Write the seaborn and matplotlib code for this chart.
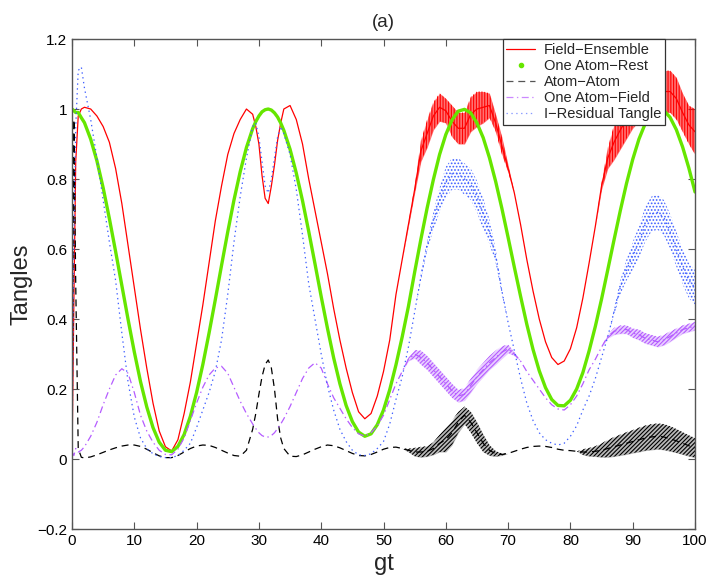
import numpy as np
import seaborn as sns
import matplotlib
matplotlib.use('Agg')
import matplotlib.pyplot as plt
from matplotlib.lines import Line2D

# time grid gt (finer at the start and around the dip at gt~31)
gt = [0, 0.3, 0.6, 1, 1.5] + list(range(2, 30)) + \
     [29.5, 30, 30.5, 31, 31.5, 32, 32.5, 33, 33.5, 34] + list(range(35, 101))

field_ensemble = [
    0.0, 0.45, 0.85, 0.98, 1.0,
    1.005, 1.0, 0.98, 0.95, 0.905, 0.83, 0.73, 0.61, 0.49, 0.37,
    0.26, 0.16, 0.08, 0.035, 0.023, 0.055, 0.13, 0.22, 0.33, 0.44,
    0.56, 0.68, 0.78, 0.87, 0.93, 0.97, 1.0, 0.985,
    0.95, 0.90, 0.81, 0.745, 0.73, 0.78, 0.84, 0.91, 0.96, 1.0,
    1.01, 0.97, 0.90, 0.80, 0.71, 0.62, 0.53, 0.43, 0.34, 0.26,
    0.19, 0.135, 0.115, 0.13, 0.18, 0.25, 0.34, 0.47, 0.57, 0.67,
    0.77, 0.88, 0.93, 0.98, 1.005, 0.995, 0.965, 0.945, 0.945, 0.985,
    1.0, 1.005, 1.01, 0.96, 0.895, 0.83, 0.76, 0.67, 0.57, 0.48,
    0.40, 0.335, 0.29, 0.27, 0.28, 0.315, 0.375, 0.46, 0.56, 0.665,
    0.78, 0.86, 0.905, 0.94, 0.97, 1.0, 1.02, 1.03, 1.04, 1.045,
    1.05, 1.05, 1.03, 0.99, 0.955, 0.935,
]

one_atom_rest = [
    1.0, 0.995, 0.99, 0.99, 0.975,
    0.961, 0.914, 0.852, 0.775, 0.687, 0.593, 0.496, 0.399, 0.306, 0.221,
    0.149, 0.090, 0.048, 0.025, 0.021, 0.036, 0.070, 0.122, 0.190, 0.270,
    0.360, 0.455, 0.553, 0.649, 0.740, 0.821, 0.890, 0.944,
    0.964, 0.980, 0.992, 0.998, 1.0, 0.997, 0.989, 0.977, 0.960, 0.939,
    0.885, 0.817, 0.738, 0.650, 0.558, 0.464, 0.374, 0.289, 0.215, 0.153,
    0.107, 0.077, 0.065, 0.072, 0.098, 0.140, 0.198, 0.269, 0.349, 0.436,
    0.534, 0.628, 0.717, 0.798, 0.870, 0.927, 0.969, 0.994, 0.999, 0.989,
    0.960, 0.918, 0.861, 0.793, 0.716, 0.633, 0.548, 0.465, 0.385, 0.313,
    0.252, 0.204, 0.170, 0.153, 0.152, 0.168, 0.200, 0.247, 0.309, 0.379,
    0.457, 0.541, 0.626, 0.709, 0.787, 0.856, 0.914, 0.958, 0.987, 0.999,
    0.996, 0.976, 0.941, 0.892, 0.832, 0.763,
]

atom_atom = [
    0.0, 0.97, 0.5, 0.03, 0.005,
    0.003, 0.006, 0.012, 0.019, 0.026, 0.032, 0.037, 0.04, 0.04, 0.036,
    0.028, 0.018, 0.009, 0.004, 0.004, 0.01, 0.02, 0.03, 0.037, 0.04,
    0.039, 0.033, 0.025, 0.017, 0.01, 0.008, 0.025, 0.085,
    0.13, 0.185, 0.235, 0.27, 0.283, 0.26, 0.2, 0.115, 0.06, 0.03,
    0.008, 0.007, 0.012, 0.02, 0.028, 0.035, 0.04, 0.038, 0.032, 0.024,
    0.016, 0.01, 0.009, 0.013, 0.02, 0.028, 0.033, 0.034, 0.03, 0.025,
    0.02, 0.02, 0.022, 0.03, 0.045, 0.055, 0.075, 0.105, 0.125, 0.105,
    0.075, 0.045, 0.025, 0.015, 0.013, 0.016, 0.022, 0.028, 0.033, 0.036,
    0.037, 0.036, 0.033, 0.028, 0.025, 0.024, 0.022, 0.02, 0.02, 0.022,
    0.025, 0.03, 0.035, 0.04, 0.045, 0.05, 0.055, 0.06, 0.063, 0.065,
    0.063, 0.058, 0.052, 0.045, 0.038, 0.032,
]

one_atom_field = [
    0.02, 0.01, 0.03, 0.02, 0.025,
    0.035, 0.065, 0.105, 0.155, 0.20, 0.24, 0.258, 0.245, 0.19, 0.125,
    0.08, 0.048, 0.025, 0.013, 0.012, 0.028, 0.06, 0.11, 0.16, 0.205,
    0.24, 0.26, 0.265, 0.245, 0.205, 0.165, 0.13, 0.10,
    0.087, 0.075, 0.067, 0.063, 0.063, 0.067, 0.075, 0.087, 0.10, 0.115,
    0.15, 0.19, 0.23, 0.26, 0.275, 0.26, 0.215, 0.175, 0.145, 0.115,
    0.09, 0.072, 0.065, 0.075, 0.095, 0.125, 0.17, 0.215, 0.25, 0.285,
    0.30, 0.29, 0.275, 0.255, 0.235, 0.215, 0.195, 0.18, 0.185, 0.21,
    0.235, 0.255, 0.275, 0.29, 0.305, 0.315, 0.30, 0.28, 0.25, 0.225,
    0.20, 0.175, 0.155, 0.143, 0.14, 0.155, 0.18, 0.215, 0.255, 0.285,
    0.32, 0.35, 0.365, 0.37, 0.37, 0.36, 0.355, 0.345, 0.34, 0.335,
    0.34, 0.35, 0.36, 0.37, 0.375, 0.38,
]

residual = [
    0.0, 0.6, 0.95, 1.11, 1.12,
    1.06, 0.97, 0.86, 0.74, 0.62, 0.51, 0.36, 0.22, 0.12, 0.06,
    0.03, 0.015, 0.007, 0.004, 0.004, 0.01, 0.025, 0.045, 0.09, 0.14,
    0.19, 0.25, 0.34, 0.47, 0.62, 0.75, 0.86, 0.95,
    0.96, 0.92, 0.85, 0.78, 0.76, 0.80, 0.86, 0.92, 0.95, 0.93,
    0.87, 0.77, 0.64, 0.50, 0.40, 0.30, 0.21, 0.14, 0.085, 0.05,
    0.025, 0.012, 0.01, 0.015, 0.03, 0.05, 0.10, 0.17, 0.235, 0.32,
    0.42, 0.52, 0.61, 0.68, 0.74, 0.79, 0.815, 0.815, 0.80, 0.785,
    0.75, 0.70, 0.65, 0.58, 0.48, 0.39, 0.31, 0.23, 0.16, 0.11,
    0.075, 0.055, 0.045, 0.04, 0.045, 0.065, 0.095, 0.14, 0.18, 0.23,
    0.29, 0.35, 0.42, 0.49, 0.54, 0.58, 0.62, 0.67, 0.70, 0.705,
    0.69, 0.65, 0.60, 0.55, 0.51, 0.49,
]

# half-width of the fast oscillation band, for gt = 35 .. 100
red_spread = [
    0, 0, 0, 0, 0, 0, 0, 0, 0, 0,
    0, 0, 0, 0, 0, 0, 0, 0, 0, 0.005,
    0.01, 0.03, 0.04, 0.04, 0.04, 0.035, 0.045, 0.045, 0.045, 0.05,
    0.05, 0.045, 0.035, 0.025, 0.025, 0.01, 0, 0, 0, 0,
    0, 0, 0, 0, 0, 0, 0, 0, 0, 0,
    0.01, 0.03, 0.05, 0.055, 0.055, 0.055, 0.055, 0.06, 0.06, 0.06,
    0.06, 0.06, 0.06, 0.055, 0.055, 0.065,
]
black_spread = [
    0, 0, 0, 0, 0, 0, 0, 0, 0, 0,
    0, 0, 0, 0, 0, 0, 0, 0, 0, 0.005,
    0.012, 0.015, 0.015, 0.018, 0.025, 0.035, 0.035, 0.03, 0.025, 0.03,
    0.03, 0.025, 0.015, 0.008, 0.003, 0, 0, 0, 0, 0,
    0, 0, 0, 0, 0, 0, 0, 0.008, 0.012, 0.015,
    0.02, 0.025, 0.028, 0.03, 0.032, 0.033, 0.035, 0.036, 0.037, 0.037,
    0.037, 0.036, 0.034, 0.032, 0.03, 0.028,
]
purple_spread = [
    0, 0, 0, 0, 0, 0, 0, 0, 0, 0,
    0, 0, 0, 0, 0, 0, 0, 0, 0, 0.005,
    0.012, 0.02, 0.02, 0.02, 0.02, 0.02, 0.02, 0.018, 0.018, 0.02,
    0.02, 0.02, 0.02, 0.02, 0.018, 0.012, 0.005, 0, 0, 0,
    0, 0, 0, 0, 0, 0, 0, 0, 0, 0,
    0, 0.005, 0.01, 0.012, 0.012, 0.013, 0.015, 0.015, 0.015, 0.015,
    0.015, 0.015, 0.013, 0.012, 0.012, 0.012,
]
blue_spread = [
    0, 0, 0, 0, 0, 0, 0, 0, 0, 0,
    0, 0, 0, 0, 0, 0, 0, 0, 0, 0,
    0, 0.01, 0.015, 0.025, 0.035, 0.045, 0.045, 0.045, 0.045, 0.045,
    0.045, 0.045, 0.035, 0.02, 0.01, 0, 0, 0, 0, 0,
    0, 0, 0, 0, 0, 0, 0, 0, 0, 0,
    0, 0, 0.01, 0.02, 0.03, 0.04, 0.045, 0.05, 0.05, 0.05,
    0.05, 0.05, 0.05, 0.05, 0.05, 0.05,
]

labels = ['Field\u2212Ensemble', 'One Atom\u2212Rest', 'Atom\u2212Atom',
          'One Atom\u2212Field', 'I\u2212Residual Tangle']

c_red = '#ff0000'
c_green = '#66e600'
c_black = '#000000'
c_purple = '#b55cff'
c_blue = '#3f5fff'

sns.set_style('ticks')
plt.rcParams['font.family'] = ['Liberation Sans', 'DejaVu Sans']
plt.rcParams['lines.scale_dashes'] = False
plt.rcParams['hatch.linewidth'] = 0.8

fig = plt.figure(figsize=(7.1, 5.85), dpi=100)
ax = fig.add_axes([0.1014, 0.0957, 0.8775, 0.8376])

gt_arr = np.array(gt)
band_gt = gt_arr[43:]


def band(values, spread, color, hatch, alpha):
    # fast oscillations drawn as a hatched envelope around the curve
    mid = np.array(values[43:])
    s = np.array(spread)
    lo = np.clip(mid - s, 0, None)
    ax.fill_between(band_gt, lo, mid + s, facecolor=color, alpha=alpha, lw=0)
    ax.fill_between(band_gt, lo, mid + s, facecolor='none', edgecolor=color,
                    hatch=hatch, lw=0)


sns.lineplot(x=gt, y=field_ensemble, ax=ax, color=c_red, lw=0.9,
             estimator=None, sort=False)
band(field_ensemble, red_spread, c_red, '||||||', 0.55)

sns.lineplot(x=gt, y=one_atom_rest, ax=ax, color=c_green, lw=2.4,
             estimator=None, sort=False)

sns.lineplot(x=gt, y=atom_atom, ax=ax, color=c_black, lw=0.9,
             linestyle=(0, (5, 3.5)), estimator=None, sort=False)
band(atom_atom, black_spread, c_black, '////////', 0.28)

sns.lineplot(x=gt, y=one_atom_field, ax=ax, color=c_purple, lw=0.9,
             linestyle=(0, (5, 2.5, 1, 2.5)), estimator=None, sort=False)
band(one_atom_field, purple_spread, c_purple, '////////', 0.3)

sns.lineplot(x=gt, y=residual, ax=ax, color=c_blue, lw=0.9,
             linestyle=(0, (1, 2.5)), estimator=None, sort=False)
ax.fill_between(band_gt, np.array(residual[43:]) - blue_spread,
                np.array(residual[43:]) + blue_spread,
                facecolor='none', edgecolor=c_blue, hatch='.....', lw=0)

ax.set_xlim(0, 100)
ax.set_ylim(-0.2, 1.2)
ax.set_xticks(range(0, 101, 10))
ax.set_yticks([-0.2, 0, 0.2, 0.4, 0.6, 0.8, 1.0, 1.2])
ax.set_yticklabels(['\u22120.2', '0', '0.2', '0.4', '0.6', '0.8', '1', '1.2'])
ax.tick_params(direction='in', top=True, right=True, length=5,
               labelsize=11, color='#555555', labelcolor='black')
for sp in ax.spines.values():
    sp.set_visible(True)
    sp.set_color('#555555')
    sp.set_linewidth(1.0)

ax.set_xlabel('gt', fontsize=17, labelpad=4)
ax.set_ylabel('Tangles', fontsize=17, labelpad=3)
ax.set_title('(a)', fontsize=13.5, pad=9)

handles = [
    Line2D([], [], color=c_red, lw=0.9),
    Line2D([], [], color=c_green, lw=0, marker='o', markersize=3),
    Line2D([], [], color='#555555', lw=0.9, linestyle=(0, (5, 3.5))),
    Line2D([], [], color='#cc88ff', lw=0.9, linestyle=(0, (5, 2.5, 1, 2.5))),
    Line2D([], [], color='#8899ff', lw=0.9, linestyle=(0, (1, 2.5))),
]
leg = ax.legend(handles, labels, loc='upper right', bbox_to_anchor=(0.952, 1.0),
                borderaxespad=0, fontsize=10.5, frameon=True, fancybox=False,
                framealpha=1, edgecolor='#333333', handlelength=2.0,
                handletextpad=0.6, labelspacing=0.15, borderpad=0.25)
leg.get_frame().set_linewidth(0.9)

fig.savefig('out.png', dpi=100)
